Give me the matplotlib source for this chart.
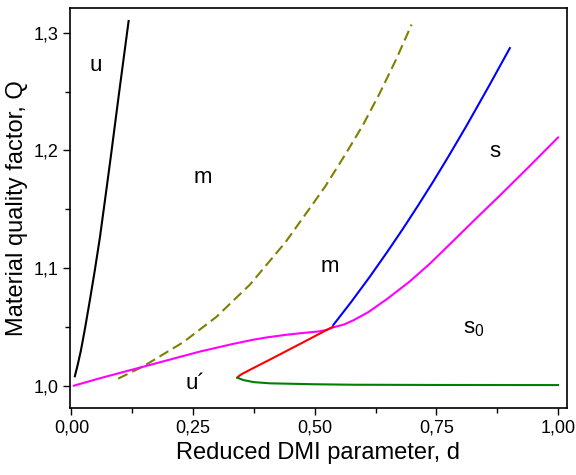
import matplotlib
matplotlib.use('Agg')
import matplotlib.pyplot as plt
from matplotlib.ticker import MultipleLocator, FuncFormatter

plt.rcParams['font.family'] = ['Liberation Sans', 'DejaVu Sans']

# boundary of the u region (black)
d_u = [0.007, 0.013, 0.0195, 0.028, 0.038, 0.048, 0.0585, 0.070, 0.081, 0.0976, 0.1175]
q_u = [1.008, 1.018, 1.030, 1.049, 1.073, 1.098, 1.126, 1.161, 1.195, 1.248, 1.310]

# dashed olive line
d_dash = [0.096, 0.148, 0.230, 0.298, 0.367, 0.440, 0.497, 0.521, 0.565, 0.599, 0.634, 0.668, 0.699]
q_dash = [1.006, 1.0165, 1.037, 1.0585, 1.086, 1.122, 1.155, 1.169, 1.198, 1.2215, 1.249, 1.278, 1.307]

# magenta line
d_mag = [0.005, 0.0585, 0.161, 0.264, 0.332, 0.373, 0.401, 0.442, 0.469, 0.510, 0.525, 0.538,
         0.560, 0.579, 0.610, 0.648, 0.695, 0.736, 0.777, 0.830, 0.880, 0.940, 1.0]
q_mag = [1.000, 1.0063, 1.0176, 1.029, 1.0355, 1.039, 1.041, 1.0433, 1.0445, 1.0462, 1.0475, 1.0496,
         1.052, 1.0555, 1.0625, 1.0735, 1.0885, 1.1035, 1.120, 1.1415, 1.1615, 1.186, 1.211]

# blue line (m / s)
d_blue = [0.538, 0.575, 0.613, 0.648, 0.680, 0.712, 0.743, 0.774, 0.812, 0.860, 0.901]
q_blue = [1.0515, 1.0712, 1.0925, 1.1131, 1.1326, 1.1529, 1.1732, 1.1943, 1.2210, 1.2562, 1.2870]

# red line
d_red = [0.341, 0.345, 0.353, 0.373, 0.408, 0.442, 0.475, 0.510, 0.538]
q_red = [1.0068, 1.0085, 1.0105, 1.0148, 1.0222, 1.0295, 1.0366, 1.0442, 1.0502]

# green line
d_green = [0.341, 0.353, 0.375, 0.408, 0.50, 0.58, 0.75, 1.0]
q_green = [1.0068, 1.0048, 1.003, 1.002, 1.0012, 1.0008, 1.0006, 1.0005]

fig = plt.figure(figsize=(5.76, 4.75), dpi=100)
ax = fig.add_axes([0.1215, 0.141, 0.8625, 0.842])

lw = 1.5
ax.plot(d_u, q_u, color='black', lw=lw)
ax.plot(d_dash, q_dash, color='#808000', lw=lw, dashes=(5, 2.5))
ax.plot(d_mag, q_mag, color='#ff00ff', lw=lw)
ax.plot(d_blue, q_blue, color='#0000ff', lw=lw)
ax.plot(d_red, q_red, color='#ff0000', lw=lw)
ax.plot(d_green, q_green, color='#008000', lw=lw)

# region labels
fs = 16
ax.text(0.050, 1.272, 'u', fontsize=fs, ha='center', va='center')
ax.text(0.271, 1.177, 'm', fontsize=fs, ha='center', va='center')
ax.text(0.531, 1.101, 'm', fontsize=fs, ha='center', va='center')
ax.text(0.871, 1.199, 's', fontsize=fs, ha='center', va='center')
ax.text(0.827, 1.049, r's$_\mathregular{0}$', fontsize=fs, ha='center', va='center')
ax.text(0.254, 1.002, 'u\u00b4', fontsize=fs, ha='center', va='center')

ax.set_xlim(-0.003, 1.018)
ax.set_ylim(0.981, 1.321)

ax.xaxis.set_major_locator(MultipleLocator(0.25))
ax.xaxis.set_minor_locator(MultipleLocator(0.125))
ax.yaxis.set_major_locator(MultipleLocator(0.1))
ax.yaxis.set_minor_locator(MultipleLocator(0.05))
ax.xaxis.set_major_formatter(FuncFormatter(lambda v, p: f'{v:.2f}'.replace('.', ',')))
ax.yaxis.set_major_formatter(FuncFormatter(lambda v, p: f'{v:.1f}'.replace('.', ',')))

ax.tick_params(which='both', direction='out', top=False, right=False, width=1.0)
ax.tick_params(which='major', length=5, labelsize=13)
ax.tick_params(which='minor', length=3.5)
for s in ax.spines.values():
    s.set_linewidth(1.2)

ax.set_xlabel('Reduced DMI parameter, d', fontsize=17)
ax.set_ylabel('Material quality factor, Q', fontsize=17)

fig.savefig('out.png', dpi=100)
